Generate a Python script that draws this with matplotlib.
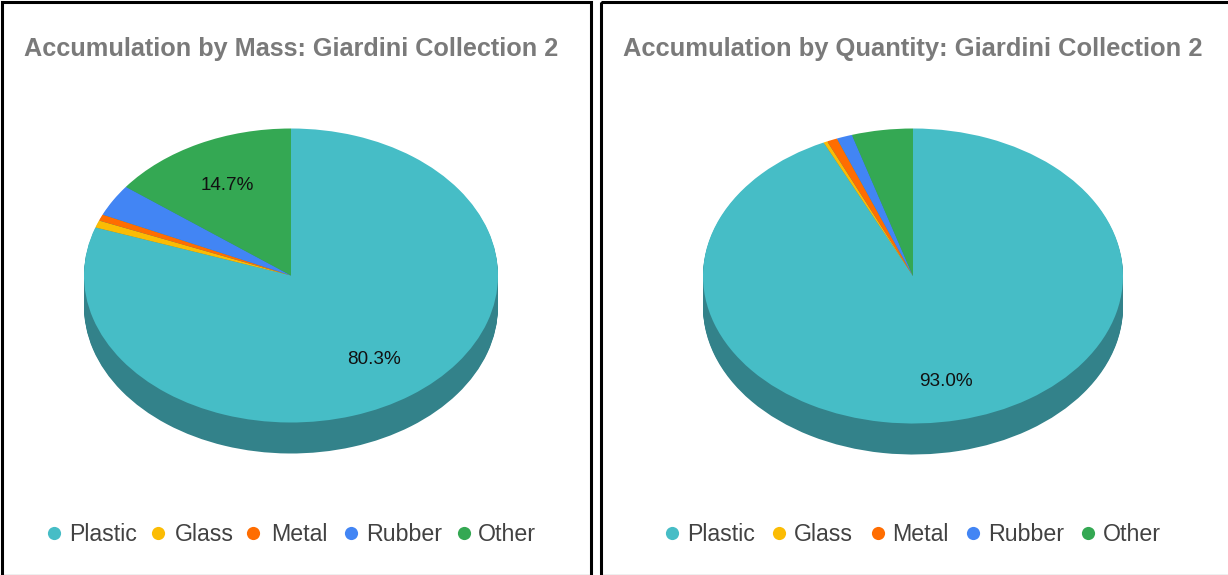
import matplotlib
matplotlib.use("Agg")
import matplotlib.pyplot as plt
from matplotlib.patches import Rectangle

plt.rcParams['font.family'] = ['Liberation Sans', 'DejaVu Sans']

W, H = 1228, 575

materials = ["Plastic", "Glass", "Metal", "Rubber", "Other"]
mass_share = [80.3, 0.8, 0.7, 3.5, 14.7]
quantity_share = [93.0, 0.3, 0.8, 1.2, 4.7]
colors = ["#46BDC6", "#FBBC04", "#FF6D01", "#4285F4", "#34A853"]
wall_color = "#33828A"

fig = plt.figure(figsize=(W/100, H/100), dpi=100)

# overlay in pixel coordinates for frames, titles and legends
bg = fig.add_axes([0, 0, 1, 1], zorder=5)
bg.set_xlim(0, W)
bg.set_ylim(H, 0)
bg.axis("off")
bg.patch.set_alpha(0)


def tilted_pie(values, cx, cy, rx, ry, depth):
  ax = fig.add_axes([(cx-rx)/W, 1-(cy+ry)/H, 2*rx/W, 2*ry/H])
  # dark copies stacked downwards make the side wall
  for d in range(depth, 0, -1):
    ax.pie(values, colors=[wall_color]*len(values), startangle=90, counterclock=False,
           center=(0, -d/ry), radius=1, frame=False)
  ax.pie(values, colors=colors, startangle=90, counterclock=False, radius=1, frame=False)
  ax.set_aspect("auto")
  ax.set_xlim(-1, 1)
  ax.set_ylim(-1, 1)
  ax.axis("off")
  for p in ax.patches:
    p.set_clip_on(False)
  return ax


def legend(marks, texts):
  for name, col, mx, tx in zip(materials, colors, marks, texts):
    bg.scatter([mx], [533], s=90, color=col, linewidths=0)
    bg.text(tx, 532, name, fontsize=16.7, color="#424242", va="center_baseline", ha="left")


tilted_pie(mass_share, 291, 275.5, 207, 147, 31)
tilted_pie(quantity_share, 913, 276, 210, 147.5, 31)

# panel frames, the bottom edge is only a thin line
bg.add_patch(Rectangle((2, 2), 588.5, 574, fill=False, edgecolor="black", lw=2.2))
bg.add_patch(Rectangle((601, 2), 640, 574, fill=False, edgecolor="black", lw=2.2))
bg.plot([2, 590], [574.5, 574.5], color="#555555", lw=0.8)
bg.plot([601, 1228], [574.5, 574.5], color="#555555", lw=0.8)

bg.text(291.5, 46.5, "Accumulation by Mass: Giardini Collection 2", fontsize=18.2, fontweight="bold",
        color="#7A7A7A", ha="center", va="center_baseline")
bg.text(913, 46.5, "Accumulation by Quantity: Giardini Collection 2", fontsize=18.35, fontweight="bold",
        color="#7A7A7A", ha="center", va="center_baseline")

bg.text(227.5, 184, f"{mass_share[4]:.1f}%", fontsize=13.6, color="#111111", ha="center", va="center_baseline")
bg.text(373.5, 358, f"{mass_share[0]:.1f}%", fontsize=13.6, color="#111111", ha="center", va="center_baseline")
bg.text(946, 379, f"{quantity_share[0]:.1f}%", fontsize=13.6, color="#111111", ha="center", va="center_baseline")

legend([54, 158, 253, 351, 464], [69, 175, 271, 366, 478])
legend([672, 779, 878, 973, 1088], [687, 794, 892, 988, 1103])

fig.savefig("out.png", dpi=100)
